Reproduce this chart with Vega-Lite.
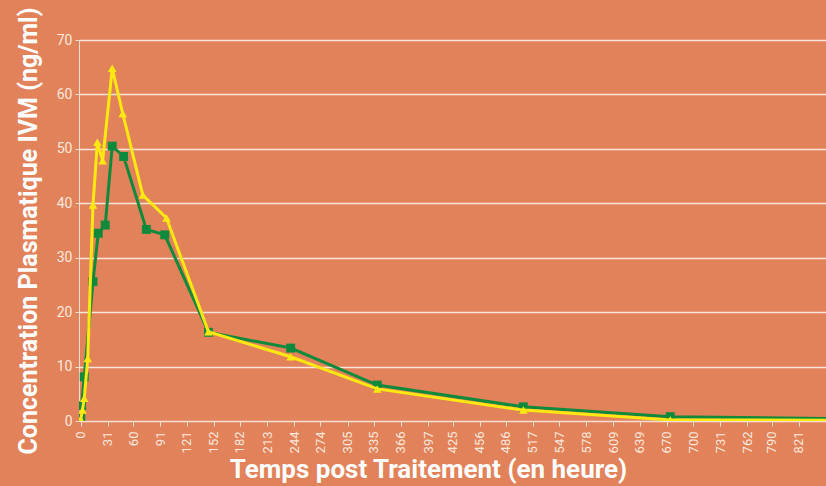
{
  "$schema": "https://vega.github.io/schema/vega-lite/v6.json",
  "width": 747,
  "height": 381,
  "autosize": "none",
  "padding": {"left": 79, "top": 40, "right": 0, "bottom": 65},
  "background": "#E2825A",
  "config": {
    "view": {"stroke": null},
    "axis": {
      "labelFont": "Roboto",
      "labelColor": "#FBE7DD",
      "titleFont": "Roboto",
      "titleColor": "#FFFFFF",
      "titleFontWeight": "bold",
      "domainColor": "#F6DED2",
      "tickColor": "#F6DED2",
      "gridColor": "#F8E6DC",
      "gridWidth": 1.5
    }
  },
  "data": {
    "values": [
      {"s": "A", "h": 0, "c": 0.5},
      {"s": "A", "h": 1, "c": 2.8},
      {"s": "A", "h": 4, "c": 8.1},
      {"s": "A", "h": 14, "c": 25.6},
      {"s": "A", "h": 20, "c": 34.5},
      {"s": "A", "h": 28, "c": 36.0},
      {"s": "A", "h": 36, "c": 50.5},
      {"s": "A", "h": 49, "c": 48.6},
      {"s": "A", "h": 75, "c": 35.2},
      {"s": "A", "h": 96, "c": 34.2},
      {"s": "A", "h": 146, "c": 16.3},
      {"s": "A", "h": 240, "c": 13.4},
      {"s": "A", "h": 339, "c": 6.6},
      {"s": "A", "h": 506, "c": 2.6},
      {"s": "A", "h": 674, "c": 0.8},
      {"s": "A", "h": 1000, "c": 0.2},
      {"s": "B", "h": 0, "c": 0.3},
      {"s": "B", "h": 2, "c": 2.0},
      {"s": "B", "h": 4, "c": 4.2},
      {"s": "B", "h": 8, "c": 11.5},
      {"s": "B", "h": 14, "c": 39.7},
      {"s": "B", "h": 19, "c": 51.2},
      {"s": "B", "h": 25, "c": 47.8},
      {"s": "B", "h": 36, "c": 64.8},
      {"s": "B", "h": 48, "c": 56.5},
      {"s": "B", "h": 71, "c": 41.5},
      {"s": "B", "h": 98, "c": 37.3},
      {"s": "B", "h": 146, "c": 16.4},
      {"s": "B", "h": 240, "c": 11.8},
      {"s": "B", "h": 339, "c": 5.9},
      {"s": "B", "h": 506, "c": 2.0},
      {"s": "B", "h": 674, "c": 0.2},
      {"s": "B", "h": 1000, "c": 0.1}
    ]
  },
  "encoding": {
    "x": {
      "field": "h",
      "type": "quantitative",
      "scale": {"domain": [-2, 852], "nice": false, "zero": false},
      "axis": {
        "values": [0,31,60,91,121,152,182,213,244,274,305,335,366,397,425,456,486,517,547,578,609,639,670,700,731,762,790,821],
        "labelAngle": -90,
        "labelFontSize": 13,
        "labelPadding": 5,
        "tickSize": 5,
        "grid": false,
        "title": "Temps post Traitement (en heure)",
        "titleFontSize": 26,
        "titlePadding": 4,
        "titleX": 349
      }
    },
    "y": {
      "field": "c",
      "type": "quantitative",
      "scale": {"domain": [0, 70], "nice": false},
      "axis": {
        "values": [0,10,20,30,40,50,60,70],
        "labelFontSize": 14,
        "labelPadding": 3,
        "tickSize": 4,
        "grid": true,
        "title": "Concentration Plasmatique IVM (ng/ml)",
        "titleFontSize": 25,
        "titlePadding": 15
      }
    }
  },
  "layer": [
    {
      "transform": [{"filter": "datum.s === 'A'"}],
      "mark": {"type": "line", "color": "#0F8A3C", "strokeWidth": 3, "clip": true}
    },
    {
      "transform": [{"filter": "datum.s === 'A'"}],
      "mark": {"type": "point", "shape": "square", "filled": true, "opacity": 1, "color": "#0F8A3C", "size": 80, "clip": true}
    },
    {
      "transform": [{"filter": "datum.s === 'B'"}],
      "mark": {"type": "line", "color": "#FFE812", "strokeWidth": 3, "clip": true}
    },
    {
      "transform": [{"filter": "datum.s === 'B'"}],
      "mark": {"type": "point", "shape": "triangle-up", "filled": true, "opacity": 1, "color": "#FFE812", "size": 75, "clip": true}
    }
  ]
}
